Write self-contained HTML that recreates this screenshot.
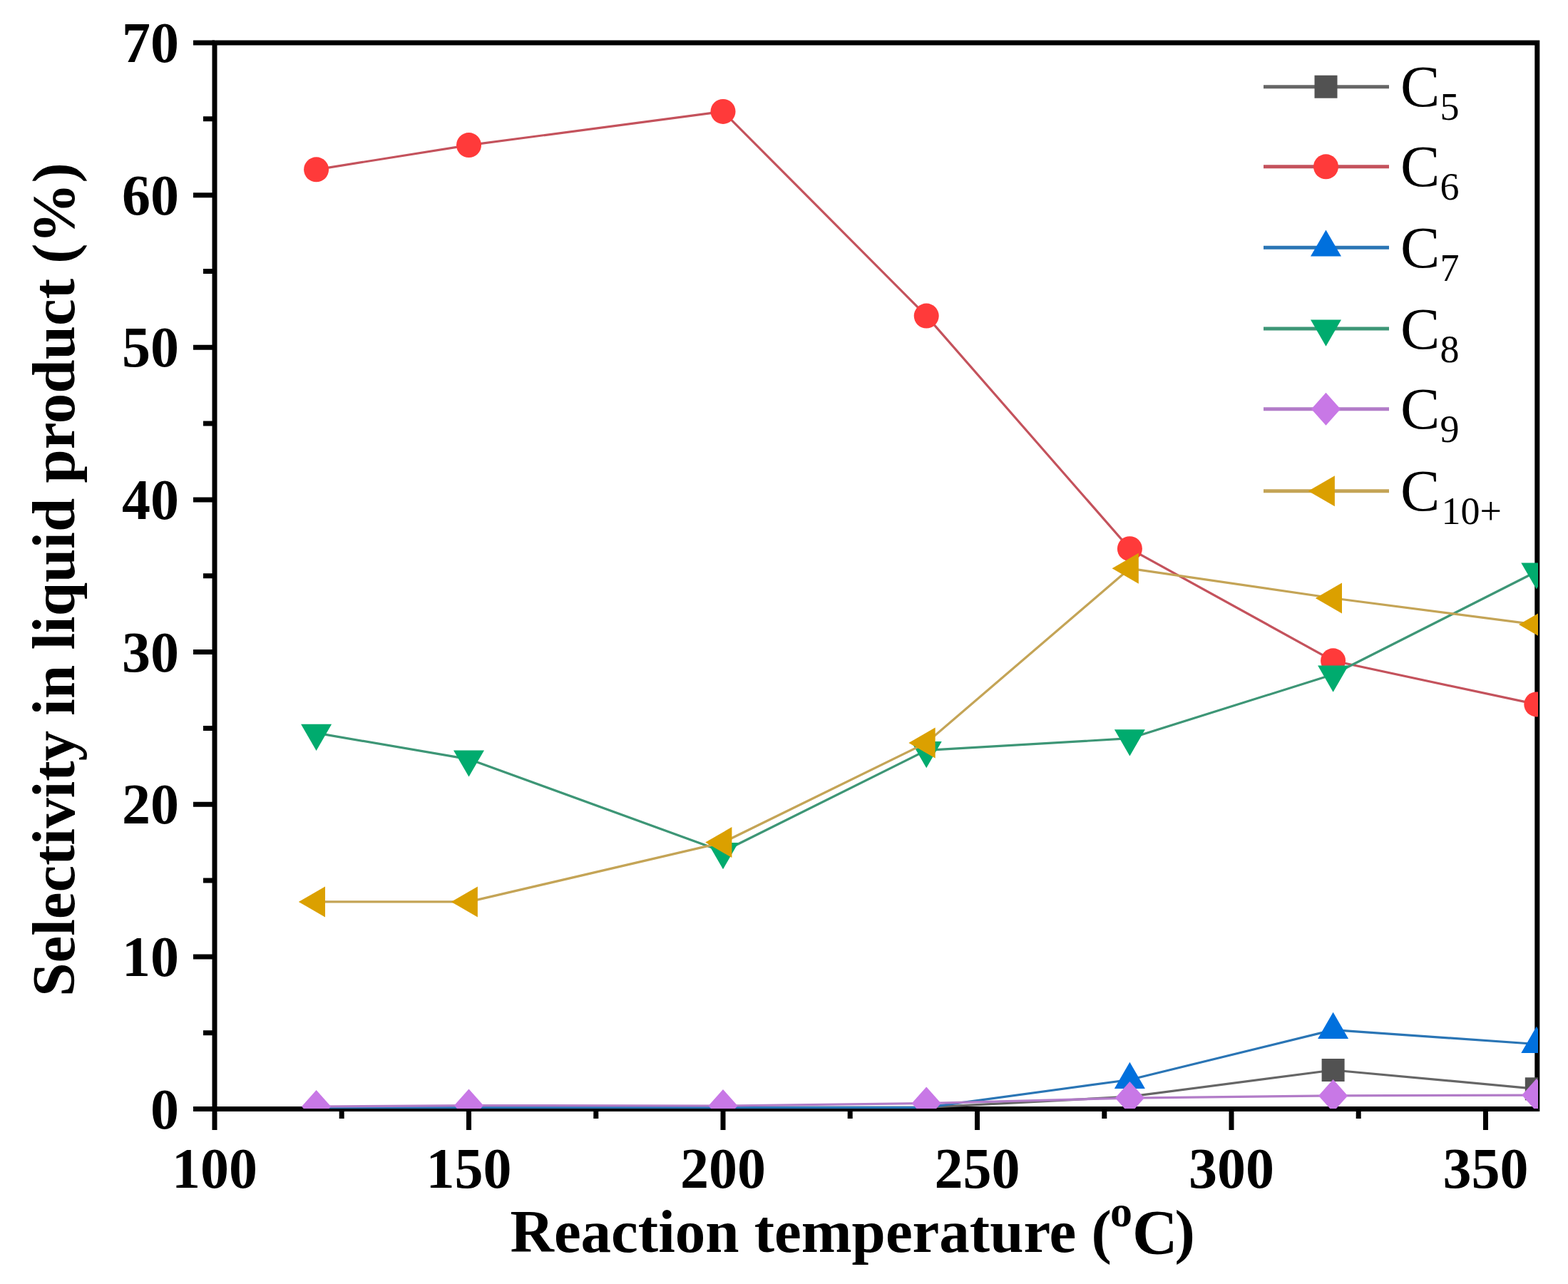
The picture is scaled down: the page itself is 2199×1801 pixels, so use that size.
<!DOCTYPE html>
<html><head><meta charset="utf-8"><title>Selectivity chart</title>
<style>
html,body{margin:0;padding:0;background:#fff;}
body{width:2199px;height:1801px;overflow:hidden;}
svg{display:block;}
.b{font-family:"Liberation Serif","Times New Roman",serif;font-weight:bold;}
.r{font-family:"Liberation Serif","Times New Roman",serif;font-weight:normal;}
</style></head><body>
<svg width="2199" height="1801" viewBox="0 0 2199 1801">
<rect width="2199" height="1801" fill="#fff"/>
<defs><clipPath id="pc"><rect x="301.0" y="40" width="1856.0" height="1515.0"/></clipPath></defs>

<g stroke="#000" stroke-width="7" fill="none" stroke-linecap="square">
<path d="M301.0,60.0 H2155.8 V1555.5 H301.0 Z" stroke-linejoin="miter"/>
</g>
<path d="M271.0,1555.5H301.0M271.0,1341.9H301.0M271.0,1128.2H301.0M271.0,914.6H301.0M271.0,700.9H301.0M271.0,487.3H301.0M271.0,273.7H301.0M271.0,60.0H301.0M285.0,1448.7H301.0M285.0,1235.0H301.0M285.0,1021.4H301.0M285.0,807.8H301.0M285.0,594.1H301.0M285.0,380.5H301.0M285.0,166.8H301.0M301.0,1555.5V1585.0M657.5,1555.5V1585.0M1014.0,1555.5V1585.0M1370.5,1555.5V1585.0M1727.0,1555.5V1585.0M2083.5,1555.5V1585.0M479.2,1555.5V1569.0M835.8,1555.5V1569.0M1192.2,1555.5V1569.0M1548.8,1555.5V1569.0M1905.2,1555.5V1569.0" stroke="#000" stroke-width="7" fill="none"/>
<g clip-path="url(#pc)">
<polyline points="443.6,1553.4 657.5,1553.4 1014.0,1553.4 1299.2,1553.4 1584.4,1538.2 1869.6,1501.0 2154.8,1527.3" fill="none" stroke="#666666" stroke-width="3.2" stroke-linejoin="round"/>
<rect x="1853.6" y="1485.0" width="32" height="32" fill="#525252"/>
<rect x="2138.8" y="1511.3" width="32" height="32" fill="#525252"/>
<polyline points="443.6,237.8 657.5,203.6 1014.0,156.4 1299.2,443.1 1584.4,769.7 1869.6,926.8 2154.8,987.9" fill="none" stroke="#c4525c" stroke-width="3.2" stroke-linejoin="round"/>
<circle cx="443.6" cy="237.8" r="17.5" fill="#ff3a3a"/>
<circle cx="657.5" cy="203.6" r="17.5" fill="#ff3a3a"/>
<circle cx="1014.0" cy="156.4" r="17.5" fill="#ff3a3a"/>
<circle cx="1299.2" cy="443.1" r="17.5" fill="#ff3a3a"/>
<circle cx="1584.4" cy="769.7" r="17.5" fill="#ff3a3a"/>
<circle cx="1869.6" cy="926.8" r="17.5" fill="#ff3a3a"/>
<circle cx="2154.8" cy="987.9" r="17.5" fill="#ff3a3a"/>
<polyline points="443.6,1553.4 657.5,1553.4 1014.0,1553.4 1299.2,1553.4 1584.4,1514.5 1869.6,1444.6 2154.8,1464.5" fill="none" stroke="#2a75b5" stroke-width="3.2" stroke-linejoin="round"/>
<polygon points="1584.4,1489.7 1605.9,1526.9 1562.9,1526.9" fill="#0070dd"/>
<polygon points="1869.6,1419.8 1891.1,1457.0 1848.1,1457.0" fill="#0070dd"/>
<polygon points="2154.8,1439.7 2176.3,1476.9 2133.3,1476.9" fill="#0070dd"/>
<polyline points="443.6,1028.2 657.5,1064.8 1014.0,1194.4 1299.2,1052.4 1584.4,1035.7 1869.6,946.0 2154.8,801.8" fill="none" stroke="#3d9676" stroke-width="3.2" stroke-linejoin="round"/>
<polygon points="443.6,1053.0 465.1,1015.8 422.1,1015.8" fill="#00ab6e"/>
<polygon points="657.5,1089.6 679.0,1052.4 636.0,1052.4" fill="#00ab6e"/>
<polygon points="1014.0,1219.2 1035.5,1182.0 992.5,1182.0" fill="#00ab6e"/>
<polygon points="1299.2,1077.2 1320.7,1040.0 1277.7,1040.0" fill="#00ab6e"/>
<polygon points="1584.4,1060.5 1605.9,1023.3 1562.9,1023.3" fill="#00ab6e"/>
<polygon points="1869.6,970.8 1891.1,933.6 1848.1,933.6" fill="#00ab6e"/>
<polygon points="2154.8,826.6 2176.3,789.4 2133.3,789.4" fill="#00ab6e"/>
<polyline points="443.6,1552.1 657.5,1550.6 1014.0,1551.0 1299.2,1547.6 1584.4,1540.1 1869.6,1536.9 2154.8,1536.1" fill="none" stroke="#b27cc8" stroke-width="3.2" stroke-linejoin="round"/>
<polygon points="443.6,1529.1 464.1,1552.1 443.6,1575.1 423.1,1552.1" fill="#c878e6"/>
<polygon points="657.5,1527.6 678.0,1550.6 657.5,1573.6 637.0,1550.6" fill="#c878e6"/>
<polygon points="1014.0,1528.0 1034.5,1551.0 1014.0,1574.0 993.5,1551.0" fill="#c878e6"/>
<polygon points="1299.2,1524.6 1319.7,1547.6 1299.2,1570.6 1278.7,1547.6" fill="#c878e6"/>
<polygon points="1584.4,1517.1 1604.9,1540.1 1584.4,1563.1 1563.9,1540.1" fill="#c878e6"/>
<polygon points="1869.6,1513.9 1890.1,1536.9 1869.6,1559.9 1849.1,1536.9" fill="#c878e6"/>
<polygon points="2154.8,1513.1 2175.3,1536.1 2154.8,1559.1 2134.3,1536.1" fill="#c878e6"/>
<polyline points="443.6,1264.9 657.5,1264.9 1014.0,1181.6 1299.2,1041.9 1584.4,797.3 1869.6,839.0 2154.8,876.1" fill="none" stroke="#c4a456" stroke-width="3.2" stroke-linejoin="round"/>
<polygon points="418.8,1264.9 456.0,1243.4 456.0,1286.4" fill="#dba000"/>
<polygon points="632.7,1264.9 669.9,1243.4 669.9,1286.4" fill="#dba000"/>
<polygon points="989.2,1181.6 1026.4,1160.1 1026.4,1203.1" fill="#dba000"/>
<polygon points="1274.4,1041.9 1311.6,1020.4 1311.6,1063.4" fill="#dba000"/>
<polygon points="1559.6,797.3 1596.8,775.8 1596.8,818.8" fill="#dba000"/>
<polygon points="1844.8,839.0 1882.0,817.5 1882.0,860.5" fill="#dba000"/>
<polygon points="2130.0,876.1 2167.2,854.6 2167.2,897.6" fill="#dba000"/>
</g>
<text class="b" x="251" y="1582.5" font-size="80" text-anchor="end">0</text>
<text class="b" x="251" y="1368.9" font-size="80" text-anchor="end">10</text>
<text class="b" x="251" y="1155.2" font-size="80" text-anchor="end">20</text>
<text class="b" x="251" y="941.6" font-size="80" text-anchor="end">30</text>
<text class="b" x="251" y="727.9" font-size="80" text-anchor="end">40</text>
<text class="b" x="251" y="514.3" font-size="80" text-anchor="end">50</text>
<text class="b" x="251" y="300.7" font-size="80" text-anchor="end">60</text>
<text class="b" x="251" y="87.0" font-size="80" text-anchor="end">70</text>
<text class="b" x="301.0" y="1666" font-size="80" text-anchor="middle">100</text>
<text class="b" x="657.5" y="1666" font-size="80" text-anchor="middle">150</text>
<text class="b" x="1014.0" y="1666" font-size="80" text-anchor="middle">200</text>
<text class="b" x="1370.5" y="1666" font-size="80" text-anchor="middle">250</text>
<text class="b" x="1727.0" y="1666" font-size="80" text-anchor="middle">300</text>
<text class="b" x="2083.5" y="1666" font-size="80" text-anchor="middle">350</text>
<text class="b" x="715.5" y="1756" font-size="85">Reaction temperature (<tspan font-size="62" dx="-2" dy="-36">o</tspan><tspan dy="37.5" font-size="88">C</tspan><tspan dy="-1.5" dx="-4">)</tspan></text>
<text class="b" transform="translate(104,813) rotate(-90)" font-size="85" text-anchor="middle">Selectivity in liquid product (%)</text>
<line x1="1772" y1="121.7" x2="1948" y2="121.7" stroke="#666666" stroke-width="5"/>
<rect x="1843.5" y="105.7" width="32" height="32" fill="#525252"/>
<text class="r" x="1964" y="149.2" font-size="83">C<tspan font-size="54" dy="19">5</tspan></text>
<line x1="1772" y1="233.8" x2="1948" y2="233.8" stroke="#c4525c" stroke-width="5"/>
<circle cx="1859.5" cy="233.8" r="17.5" fill="#ff3a3a"/>
<text class="r" x="1964" y="261.3" font-size="83">C<tspan font-size="54" dy="19">6</tspan></text>
<line x1="1772" y1="347.2" x2="1948" y2="347.2" stroke="#2a75b5" stroke-width="5"/>
<polygon points="1859.5,322.4 1881.0,359.6 1838.0,359.6" fill="#0070dd"/>
<text class="r" x="1964" y="374.7" font-size="83">C<tspan font-size="54" dy="19">7</tspan></text>
<line x1="1772" y1="461" x2="1948" y2="461" stroke="#3d9676" stroke-width="5"/>
<polygon points="1859.5,485.8 1881.0,448.6 1838.0,448.6" fill="#00ab6e"/>
<text class="r" x="1964" y="488.5" font-size="83">C<tspan font-size="54" dy="19">8</tspan></text>
<line x1="1772" y1="573.8" x2="1948" y2="573.8" stroke="#b27cc8" stroke-width="5"/>
<polygon points="1859.5,550.8 1880.0,573.8 1859.5,596.8 1839.0,573.8" fill="#c878e6"/>
<text class="r" x="1964" y="601.3" font-size="83">C<tspan font-size="54" dy="19">9</tspan></text>
<line x1="1772" y1="688.7" x2="1948" y2="688.7" stroke="#c4a456" stroke-width="5"/>
<polygon points="1834.7,688.7 1871.9,667.2 1871.9,710.2" fill="#dba000"/>
<text class="r" x="1964" y="716.2" font-size="83">C<tspan font-size="54" dy="19" dx="2">10+</tspan></text>
</svg></body></html>
